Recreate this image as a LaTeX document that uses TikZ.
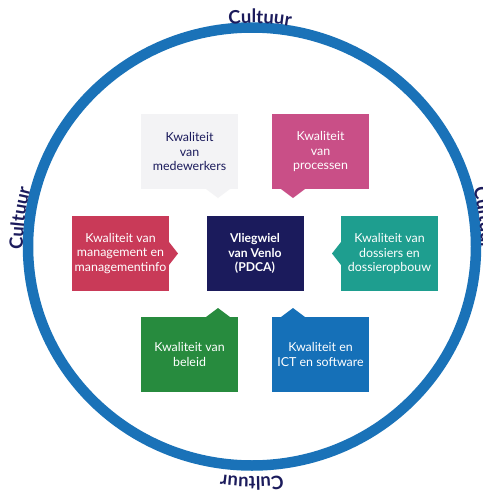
\documentclass[tikz,border=0pt]{standalone}
\usepackage{fontspec}
\setmainfont{Lato}
\usetikzlibrary{decorations.text}
\definecolor{ring}{HTML}{1A72B8}
\definecolor{navy}{HTML}{1B1B5C}
\definecolor{cgrey}{HTML}{F3F3F5}
\definecolor{cpink}{HTML}{C94F87}
\definecolor{cred}{HTML}{C93A58}
\definecolor{cteal}{HTML}{1E9E8F}
\definecolor{cgreen}{HTML}{278B3E}
\definecolor{cblue}{HTML}{1570B8}
\newcommand{\cultfont}{\fontsize{18.5}{18.5}\selectfont\bfseries\color{navy}}
\tikzset{
  box/.style={rectangle,minimum width=97pt,minimum height=75pt,inner sep=0pt,align=center,
    font=\fontsize{12.4}{14.8}\selectfont,text=white},
  cult/.style={decorate,decoration={text along path,text={|\cultfont|Cultuur},text align=center}},
}
\begin{document}
\begin{tikzpicture}[x=1pt,y=-1pt]
\useasboundingbox (0,0) rectangle (482,490);
\fill[white] (0,0) rectangle (482,490);
\coordinate (c) at (252,246.5);
\draw[ring,line width=10.5pt] (c) ellipse [x radius=224,y radius=219];
% boxes
\node[box,fill=cgrey,text=navy] (med) at (189.5,151.5) {Kwaliteit\\van\\medewerkers};
\node[box,fill=cpink] (pro) at (320.5,151.5) {Kwaliteit\\van\\processen};
\node[box,fill=cred] (man) at (120.5,253.5) {Kwaliteit van\\management en\\managementinfo};
\node[box,fill=navy,font=\fontsize{12.2}{14.8}\selectfont\bfseries] (pd) at (255,253.5) {Vliegwiel\\van Venlo\\(PDCA)};
\node[box,fill=cteal] (dos) at (389.5,253.5) {Kwaliteit van\\dossiers en\\dossieropbouw};
\node[box,fill=cgreen] (bel) at (189.5,354.5) {Kwaliteit van\\beleid};
\node[box,fill=cblue] (ict) at (320.5,354.5) {Kwaliteit en\\ICT en software};
% pointers
\fill[cgrey] (206,189) -- (218,198) -- (230,189) -- cycle;
\fill[cpink] (281,189) -- (293,198) -- (305,189) -- cycle;
\fill[cred] (169,242) -- (178,253.5) -- (169,265) -- cycle;
\fill[cteal] (341,242) -- (332,253.5) -- (341,265) -- cycle;
\fill[cgreen] (206,317) -- (218,308) -- (230,317) -- cycle;
\fill[cblue] (281,317) -- (293,308) -- (305,317) -- cycle;
% curved labels
\begin{scope}[shift={(252,246.5)}]
\path[cult] (-128:223 and 223.5) arc[start angle=-128,end angle=-48,x radius=223,y radius=223.5];
\path[cult] (147:229 and 224) arc[start angle=147,end angle=227,x radius=229,y radius=224];
\path[cult] (-47:229 and 224) arc[start angle=-47,end angle=33,x radius=229,y radius=224];
\path[cult] (50:230 and 230.5) arc[start angle=50,end angle=130,x radius=230,y radius=230.5];
\end{scope}
\end{tikzpicture}
\end{document}
